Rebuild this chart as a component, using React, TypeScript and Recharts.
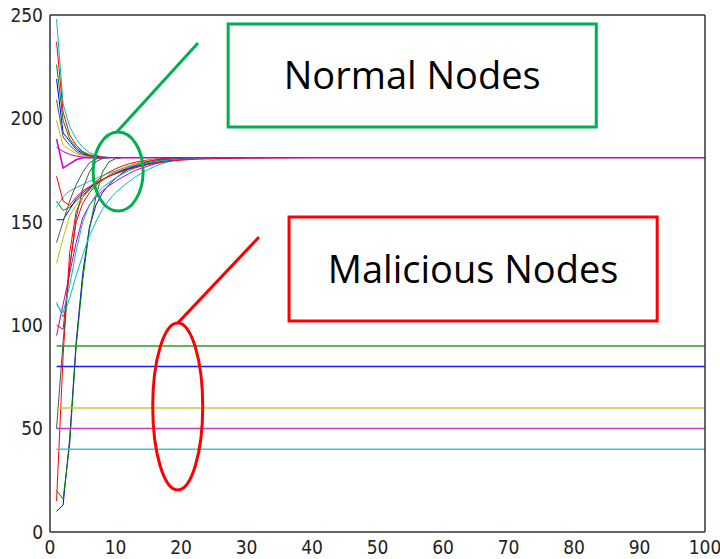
import React from "react";
import {
  Line,
  LineChart,
  ReferenceArea,
  ReferenceDot,
  ReferenceLine,
  XAxis,
  YAxis,
} from "recharts";

const xTicks = [0, 10, 20, 30, 40, 50, 60, 70, 80, 90, 100];
const yTicks = [0, 50, 100, 150, 200, 250];
const lastIteration = 100;

// normal nodes: value at iteration 1, 2, 3, ...
const steepBlue = [10, 13, 45, 92, 125, 147, 158, 164, 168, 171, 173.5, 175.5, 177, 178.2, 179.2, 180, 180.5, 181];
const steepGreen = [20, 16, 42, 90, 122, 146, 162, 174, 179, 180.5, 181];
const steepRed = [15, 85, 135, 155, 162, 166, 169.5, 172, 174, 175.6, 176.9, 178, 178.8, 179.4, 179.9, 180.2, 180.5, 180.6, 180.7, 180.8, 180.8, 180.9, 180.9, 181];
const steepGray = [50, 92, 128, 152, 166, 174, 179, 180.6, 181];
const steepMagenta = [95, 110, 125, 140, 152, 158, 162, 165, 167.5, 169.5, 171.5, 173.2, 174.8, 176, 177, 178, 178.7, 179.3, 179.8, 180.2, 180.5, 180.7, 180.9, 181];
const slowCyan = [111, 104, 113, 124, 134, 143, 150, 156, 160.5, 164, 166.8, 169.3, 171.6, 173.6, 175.3, 176.8, 178, 179, 179.7, 180.1, 180.4, 180.6, 180.7, 180.8, 180.8, 180.9, 180.9, 180.9, 181];
const midRed = [100, 98, 128, 150, 159, 164, 167.5, 170.2, 172.4, 174.2, 175.7, 176.9, 177.9, 178.7, 179.3, 179.8, 180.1, 180.4, 180.6, 180.7, 180.8, 180.9, 181];
const midCyan = [110, 106, 119, 136, 150, 158, 163, 166.5, 169, 171.2, 173, 174.6, 176, 177.2, 178.2, 179, 179.6, 180.1, 180.5, 180.8, 181];

const dipRed = [172, 160, 158, 162, 165, 167, 169, 170.5, 172, 173.2, 174.3, 175.3, 176.2, 177, 177.7, 178.3, 178.8, 179.2, 179.5, 179.8, 180, 180.2, 180.3, 180.4, 180.5, 180.6, 180.6, 180.7, 180.7, 180.8, 180.8, 180.8, 180.9, 180.9, 180.9, 180.9, 181, 181, 181];
const lowGreen = [160, 155.5, 157, 160, 163, 165.5, 168, 170, 172, 173.5, 175, 176.2, 177.2, 178, 178.7, 179.3, 179.8, 180.2, 180.5, 180.8, 181];
const lowBlue = [151, 151, 156, 161, 164, 166.5, 168.5, 170.3, 172, 173.4, 174.6, 175.7, 176.6, 177.4, 178.1, 178.7, 179.2, 179.6, 180, 180.3, 180.5, 180.7, 180.9, 181];
const lowCyan = [157, 162, 165, 166.5, 168, 169.5, 171, 172.3, 173.5, 174.6, 175.6, 176.5, 177.3, 178, 178.6, 179.1, 179.5, 179.8, 180.1, 180.3, 180.5, 180.6, 180.7, 180.8, 180.8, 180.8, 180.9, 180.9, 180.9, 180.9, 181, 181, 181, 181];
const lowGray = [140, 150, 160, 168, 174, 178.5, 180.3, 181];
const lowYellow = [130, 142, 153, 158, 162, 165, 167.5, 170, 172, 174, 175.5, 177, 178, 179, 179.7, 180.3, 181];

const highCyan = [248, 207, 196, 190, 186, 183.5, 182.2, 181.5, 181.2, 181];
const highRed = [237, 203, 192, 187, 184, 182.5, 181.7, 181.3, 181];
const highGreen = [226, 199, 190, 186, 183.5, 182, 181.4, 181];
const highBlue = [219, 193, 189, 185, 183, 181.8, 181.3, 181];
const highGray = [209, 191, 187, 184, 182.4, 181.6, 181.2, 181];
const highYellow = [199, 187, 185, 183, 182, 181.4, 181];
const highMagenta = [186, 184, 182.6, 181.8, 181.3, 181];
const consensusMagenta = [190, 176, 178, 180, 181];
const consensusValue = 181;

// malicious nodes keep a constant value
const maliciousValues = [90, 80, 60, 50, 40];
const maliciousColors = ["#2e9a2e", "#1a1aff", "#c8c83a", "#c83ac8", "#3ac8c8"];

const normalSeries = [
  { key: "steepBlue", values: steepBlue, color: "#0000ff" },
  { key: "steepGreen", values: steepGreen, color: "#008000" },
  { key: "steepRed", values: steepRed, color: "#ff0000" },
  { key: "steepGray", values: steepGray, color: "#505050" },
  { key: "steepMagenta", values: steepMagenta, color: "#bf00bf" },
  { key: "slowCyan", values: slowCyan, color: "#00bfbf" },
  { key: "midRed", values: midRed, color: "#ff0000" },
  { key: "midCyan", values: midCyan, color: "#00bfbf" },
  { key: "lowGreen", values: lowGreen, color: "#008000" },
  { key: "lowBlue", values: lowBlue, color: "#0000ff" },
  { key: "lowCyan", values: lowCyan, color: "#00bfbf" },
  { key: "lowGray", values: lowGray, color: "#505050" },
  { key: "lowYellow", values: lowYellow, color: "#bfbf00" },
  { key: "dipRed", values: dipRed, color: "#ff0000" },
  { key: "highCyan", values: highCyan, color: "#00bfbf" },
  { key: "highRed", values: highRed, color: "#ff0000" },
  { key: "highGreen", values: highGreen, color: "#008000" },
  { key: "highBlue", values: highBlue, color: "#0000ff" },
  { key: "highGray", values: highGray, color: "#505050" },
  { key: "highYellow", values: highYellow, color: "#bfbf00" },
  { key: "highMagenta", values: highMagenta, color: "#bf00bf" },
];

const rows: Array<Record<string, number>> = [];
for (let i = 0; i < 40; i++) {
  const row: Record<string, number> = { x: i + 1 };
  normalSeries.forEach((s) => {
    if (i < s.values.length) row[s.key] = s.values[i];
  });
  if (i < consensusMagenta.length) row.consensus = consensusMagenta[i];
  if (i === 0) maliciousValues.forEach((v, j) => (row["mal" + j] = v));
  rows.push(row);
}
const endRow: Record<string, number> = { x: lastIteration, consensus: consensusValue };
maliciousValues.forEach((v, j) => (endRow["mal" + j] = v));
rows.push(endRow);

const tickFont = "'Liberation Sans Narrow', 'DejaVu Sans Condensed', sans-serif";
const labelFont = "'Open Sans', 'Noto Sans', sans-serif";
const axisColor = "#333";
const axisStroke = { stroke: axisColor, strokeWidth: 1.5 };
const boxGreen = "#00b050";
const boxRed = "#ff0000";

export default function App() {
  return (
    <div style={{ position: "absolute", left: 0, top: 0, background: "#fff" }}>
      <LineChart
        width={720}
        height={559}
        data={rows}
        margin={{ top: 15, right: 15, bottom: 0, left: 0 }}
      >
        {/* label axes */}
        <XAxis
          dataKey="x"
          type="number"
          domain={[0, 100]}
          ticks={xTicks}
          interval={0}
          height={27}
          tickSize={0}
          tickMargin={9}
          tick={{ fill: "#222", fontSize: 19, fontFamily: tickFont }}
          axisLine={axisStroke}
          tickLine={false}
        />
        <YAxis
          type="number"
          domain={[0, 250]}
          ticks={yTicks}
          interval={0}
          width={50}
          tickSize={0}
          tickMargin={7}
          tick={{ fill: "#222", fontSize: 19, fontFamily: tickFont }}
          axisLine={axisStroke}
          tickLine={false}
        />
        {/* inward tick marks on all four sides, MATLAB box style */}
        <XAxis
          xAxisId="bottomTicks"
          orientation="bottom"
          mirror
          type="number"
          domain={[0, 100]}
          ticks={xTicks}
          interval={0}
          height={10}
          tickSize={7}
          tick={false}
          axisLine={false}
          tickLine={axisStroke}
        />
        <XAxis
          xAxisId="topTicks"
          orientation="top"
          mirror
          type="number"
          domain={[0, 100]}
          ticks={xTicks}
          interval={0}
          height={10}
          tickSize={7}
          tick={false}
          axisLine={axisStroke}
          tickLine={axisStroke}
        />
        <YAxis
          yAxisId="leftTicks"
          orientation="left"
          mirror
          type="number"
          domain={[0, 250]}
          ticks={yTicks}
          interval={0}
          width={10}
          tickSize={7}
          tick={false}
          axisLine={false}
          tickLine={axisStroke}
        />
        <YAxis
          yAxisId="rightTicks"
          orientation="right"
          mirror
          type="number"
          domain={[0, 250]}
          ticks={yTicks}
          interval={0}
          width={10}
          tickSize={7}
          tick={false}
          axisLine={axisStroke}
          tickLine={axisStroke}
        />

        {normalSeries.map((s) => (
          <Line
            key={s.key}
            dataKey={s.key}
            type="linear"
            stroke={s.color}
            strokeWidth={1}
            dot={false}
            connectNulls={false}
            isAnimationActive={false}
          />
        ))}
        <Line
          dataKey="consensus"
          type="linear"
          stroke="#cc00cc"
          strokeWidth={1.5}
          dot={false}
          connectNulls
          isAnimationActive={false}
        />
        {maliciousValues.map((_, j) => (
          <Line
            key={"mal" + j}
            dataKey={"mal" + j}
            type="linear"
            stroke={maliciousColors[j]}
            strokeWidth={1.5}
            dot={false}
            connectNulls
            isAnimationActive={false}
          />
        ))}

        <ReferenceArea
          x1={27.2}
          x2={83.4}
          y1={195.8}
          y2={245.6}
          fill="none"
          stroke={boxGreen}
          strokeWidth={3}
          label={{
            value: "Normal Nodes",
            position: "center",
            fontSize: 38,
            fill: "#000",
            fontFamily: labelFont,
          }}
        />
        <ReferenceLine
          segment={[
            { x: 22.6, y: 236.5 },
            { x: 10.2, y: 193.4 },
          ]}
          stroke={boxGreen}
          strokeWidth={3}
        />
        <ReferenceDot
          x={10.4}
          y={174.3}
          shape={(p: any) => (
            <ellipse cx={p.cx} cy={p.cy} rx={25} ry={39.5} fill="none" stroke={boxGreen} strokeWidth={3} />
          )}
        />

        <ReferenceArea
          x1={36.5}
          x2={92.7}
          y1={102}
          y2={152.3}
          fill="none"
          stroke={boxRed}
          strokeWidth={3}
          label={{
            value: "Malicious Nodes",
            position: "center",
            fontSize: 38,
            fill: "#000",
            fontFamily: labelFont,
          }}
        />
        <ReferenceLine
          segment={[
            { x: 31.9, y: 142.6 },
            { x: 19.5, y: 101 },
          ]}
          stroke={boxRed}
          strokeWidth={3}
        />
        <ReferenceDot
          x={19.5}
          y={60.7}
          shape={(p: any) => (
            <ellipse cx={p.cx} cy={p.cy} rx={25} ry={83.5} fill="none" stroke={boxRed} strokeWidth={3} />
          )}
        />
      </LineChart>
    </div>
  );
}
